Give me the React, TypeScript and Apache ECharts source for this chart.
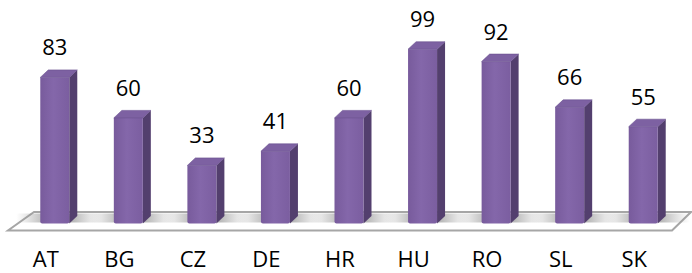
import React, { useEffect, useRef } from "react";
import * as echarts from "echarts";

const categories = ["AT", "BG", "CZ", "DE", "HR", "HU", "RO", "SL", "SK"];
const values = [83, 60, 33, 41, 60, 99, 92, 66, 55];

const FONT = "'Open Sans', 'Noto Sans', sans-serif";

export default function App() {
  const ref = useRef<HTMLDivElement>(null);
  useEffect(() => {
    if (!ref.current) return;
    const chart = echarts.init(ref.current, undefined, { renderer: "svg" });
    const W = 29;
    const D = 8;
    const DY = 7.5;
    chart.setOption({
      animation: false,
      backgroundColor: "#ffffff",
      grid: { left: 9, right: 21, top: 47.5, bottom: 49.5 },
      xAxis: {
        type: "category",
        data: categories,
        axisLine: { show: false },
        axisTick: { show: false },
        splitLine: { show: false },
        axisLabel: {
          margin: 23,
          fontSize: 22,
          lineHeight: 22,
          color: "#000",
          fontFamily: FONT,
        },
      },
      yAxis: { type: "value", min: 0, max: 100, show: false },
      graphic: [
        {
          type: "polygon",
          z: 0,
          shape: { points: [[8, 230.5], [672, 230.5], [691, 212], [34, 212]] },
          style: { fill: "#ffffff", stroke: "#a6a6a6", lineWidth: 2 },
        },
      ],
      series: [
        {
          type: "custom",
          z: 5,
          encode: { x: 0, y: 1 },
          data: values.map((v, i) => [i, v]),
          renderItem: (params: any, api: any) => {
            const c = api.coord([api.value(0), api.value(1)]);
            const b = api.coord([api.value(0), 0]);
            const x0 = c[0] - 5.5;
            const yt = c[1];
            const yb = b[1];
            return {
              type: "group",
              children: [
                {
                  type: "rect",
                  shape: { x: x0 - 24, y: yb - 10, width: W + D + 48, height: 9 },
                  style: {
                    fill: new echarts.graphic.LinearGradient(0, 0, 1, 0, [
                      { offset: 0, color: "rgba(150,150,150,0)" },
                      { offset: 0.35, color: "rgba(130,130,130,0.6)" },
                      { offset: 0.65, color: "rgba(130,130,130,0.6)" },
                      { offset: 1, color: "rgba(150,150,150,0)" },
                    ]),
                  },
                },
                {
                  type: "polygon",
                  shape: {
                    points: [
                      [x0 + W, yt],
                      [x0 + W + D, yt - DY],
                      [x0 + W + D, yb - DY],
                      [x0 + W, yb],
                    ],
                  },
                  style: { fill: "#533f6e" },
                },
                {
                  type: "rect",
                  shape: { x: x0, y: yt, width: W, height: yb - yt, r: [0, 0, 2, 2] },
                  style: {
                    fill: new echarts.graphic.LinearGradient(0, 0, 1, 0, [
                      { offset: 0, color: "#785b9c" },
                      { offset: 0.45, color: "#8467aa" },
                      { offset: 1, color: "#7b5ea0" },
                    ]),
                  },
                },
                {
                  type: "polygon",
                  shape: {
                    points: [
                      [x0, yt],
                      [x0 + W, yt],
                      [x0 + W + D, yt - DY],
                      [x0 + D, yt - DY],
                    ],
                  },
                  style: { fill: "#7d61a2", stroke: "#6a508e", lineWidth: 0.6 },
                },
                {
                  type: "text",
                  x: x0 + W / 2,
                  y: yt - 31,
                  style: {
                    text: String(api.value(1)),
                    fontSize: 22,
                    fontFamily: FONT,
                    fill: "#000",
                    align: "center",
                    verticalAlign: "middle",
                  },
                },
              ],
            };
          },
        },
      ],
    });
    return () => chart.dispose();
  }, []);
  return (
    <div
      ref={ref}
      style={{ position: "fixed", left: 0, top: 0, width: 692, height: 273 }}
    />
  );
}
